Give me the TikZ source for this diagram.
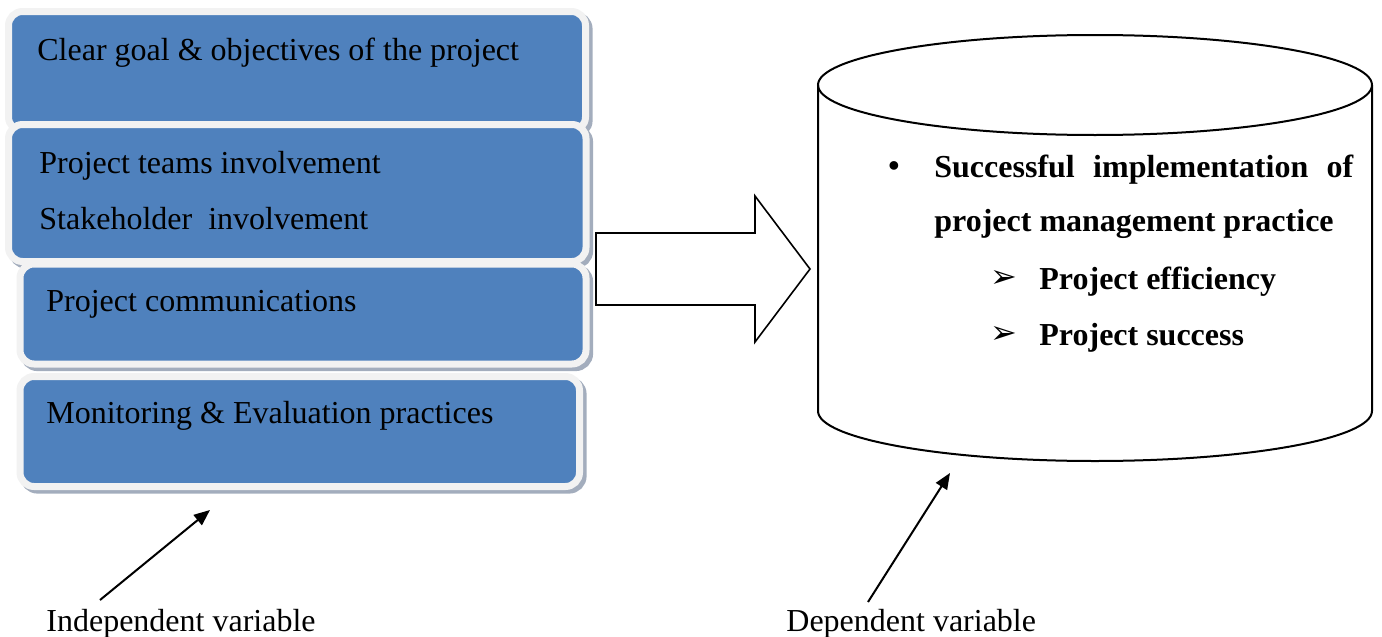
\documentclass[tikz,border=0pt]{standalone}
\usepackage{fontspec}
\setmainfont{Liberation Serif}
\newfontfamily\dingfont{DejaVu Sans}
\usepackage{tikz}
\usetikzlibrary{shapes, positioning}
\usetikzlibrary{calc}
\usetikzlibrary{arrows.meta}
\usetikzlibrary{shadows}

\definecolor{panelblue}{HTML}{4F81BD}
\definecolor{panelrim}{HTML}{F2F2F2}
\definecolor{panelshade}{HTML}{A3ADBD}

\begin{document}
\begin{tikzpicture}[x=0.5pt, y=-0.5pt,
		panel/.style={rectangle, rounded corners=7pt, fill=panelblue, draw=panelrim, line width=3.5pt, inner sep=0pt, outer sep=0pt,
			drop shadow={shadow xshift=1.8pt, shadow yshift=-1.8pt, fill=panelshade, draw=panelshade, line width=3.5pt, opacity=1}},
		paneltext/.style={anchor=west, inner sep=0pt, text height=11pt, text depth=3.5pt, font=\fontsize{16}{19}\selectfont},
		resulttext/.style={inner sep=0pt, font=\fontsize{16}{27}\selectfont\bfseries},
		ding/.style={inner sep=0pt, font=\fontsize{16}{19}\dingfont},
		pointer/.style={-{Triangle[length=8pt, width=6.5pt]}, line width=1pt}]
		\useasboundingbox (0,0) rectangle (1382,637);
		% independent variables
		\node[panel, minimum width=288.5pt, minimum height=59.75pt] (goal) at (297,71.25) {};
		\node[paneltext] (goaltext) at (37,53.5) {Clear goal \& objectives of the project};
		\node[panel, minimum width=288.75pt, minimum height=68.5pt] (involve) at (297.25,193) {};
		\node[paneltext] (teamtext) at (39,165.5) {Project teams involvement};
		\node[paneltext] (staketext) at (39,221.5) {Stakeholder\ \ involvement};
		\node[panel, minimum width=283pt, minimum height=50pt] (comm) at (303,314) {};
		\node[paneltext] (commtext) at (46,303.5) {Project communications};
		\node[panel, minimum width=279.75pt, minimum height=55pt] (monitor) at (299.75,431.5) {};
		\node[paneltext] (monitortext) at (46,415.5) {Monitoring \& Evaluation practices};
		% block arrow
		\draw[line width=0.8pt, fill=white] (596,233) -- (755,233) -- (755,196) -- (810,269) -- (755,342) -- (755,305) -- (596,305) -- cycle;
		% dependent variable
		\draw[line width=1pt] (1095,85) ellipse [x radius=138.5pt, y radius=25pt];
		\draw[line width=1pt] (818,85) -- (818,411) arc[start angle=180, end angle=360, x radius=138.5pt, y radius=25pt] -- (1372,85);
		\node[resulttext] (bul) at (894,169) {\textbullet};
		\node[resulttext, anchor=north west, text width=209.5pt, align=justify] (outcome) at (934,155) {Successful implementation of project management practice};
		\node[ding] (effmark) at (1004,279) {➢};
		\node[resulttext, anchor=base west] (efftext) at (1039,289) {Project efficiency};
		\node[ding] (succmark) at (1004,335) {➢};
		\node[resulttext, anchor=base west] (succtext) at (1039,345) {Project success};
		% labels
		\node[paneltext] (indep) at (46,623.5) {Independent variable};
		\node[paneltext] (dep) at (786,623.5) {Dependent variable};
		\coordinate (indtail) at (100,600);
		\coordinate (indtip) at (210,510);
		\coordinate (deptail) at (868,602);
		\coordinate (deptip) at (950,473);
		\draw[pointer] (indtail) -- (indtip);
		\draw[pointer] (deptail) -- (deptip);
	\end{tikzpicture}
\end{document}
